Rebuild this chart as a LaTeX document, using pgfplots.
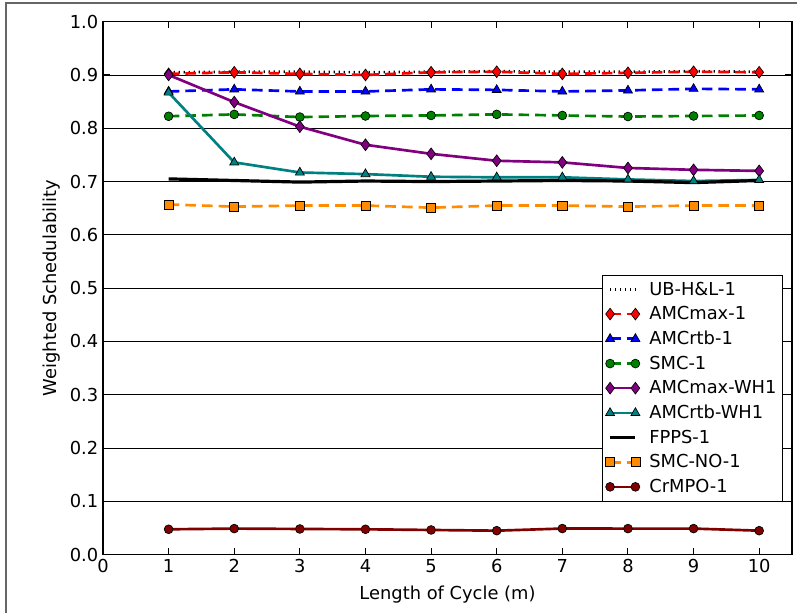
\documentclass[border=0pt]{standalone}
\usepackage{fontspec}
\setmainfont{DejaVu Sans}
\usepackage{pgfplots}
\pgfplotsset{compat=1.18}

\definecolor{cred}{RGB}{255,0,0}
\definecolor{cblue}{RGB}{0,0,255}
\definecolor{cgreen}{RGB}{0,128,0}
\definecolor{cpurple}{RGB}{128,0,128}
\definecolor{cteal}{RGB}{0,128,128}
\definecolor{corange}{RGB}{255,140,0}
\definecolor{cmaroon}{RGB}{128,0,0}

\pgfplotstableread{
m   ub     amcmax  amcrtb  smc    amcmaxwh amcrtbwh fpps   smcno  crmpo
1   0.905  0.902   0.869   0.8225 0.900    0.867    0.705  0.657  0.0476
2   0.906  0.905   0.873   0.826  0.849    0.736    0.702  0.653  0.0489
3   0.906  0.902   0.869   0.821  0.803    0.717    0.699  0.655  0.0482
4   0.905  0.900   0.869   0.823  0.769    0.714    0.701  0.655  0.0476
5   0.906  0.905   0.873   0.824  0.752    0.709    0.700  0.651  0.0463
6   0.907  0.906   0.872   0.826  0.739    0.708    0.701  0.655  0.0450
7   0.906  0.902   0.869   0.824  0.736    0.708    0.702  0.655  0.0490
8   0.906  0.904   0.871   0.822  0.7255   0.704    0.701  0.653  0.0489
9   0.907  0.906   0.874   0.823  0.722    0.701    0.698  0.655  0.0489
10  0.906  0.905   0.873   0.824  0.720    0.703    0.702  0.655  0.0450
}\data

\begin{document}
\begin{tikzpicture}
\useasboundingbox (-77.25pt,-43.7pt) rectangle (520.5pt,416pt);
\draw[black!60, line width=1.3pt] (-72.75pt,-43.7pt) -- (-72.75pt,413.5pt) -- (520.5pt,413.5pt);
\begin{axis}[
    at={(0pt,0pt)}, anchor=south west,
    scale only axis,
    width=516.75pt, height=399.75pt,
    xmin=0, xmax=10.5,
    ymin=0, ymax=1,
    xtick={0,1,2,3,4,5,6,7,8,9,10},
    ytick={0,0.1,0.2,0.3,0.4,0.5,0.6,0.7,0.8,0.9,1.0},
    yticklabel style={/pgf/number format/.cd, fixed, fixed zerofill, precision=1},
    /pgf/number format/assume math mode=true,
    tick label style={font=\fontsize{13.4}{16}\selectfont},
    label style={font=\fontsize{13.4}{16}\selectfont},
    xlabel={Length of Cycle (m)},
    ylabel={Weighted Schedulability},
    xlabel style={at={(axis description cs:0.5,-0.0756)}, anchor=center},
    ylabel style={at={(axis description cs:-0.074,0.5)}, anchor=center},
    tick align=inside,
    major tick length=5pt,
    tick style={black, line width=0.8pt},
    axis line style={line width=1pt},
    ymajorgrids,
    grid style={black, line width=0.6pt},
    legend cell align=left,
    legend style={at={(axis description cs:0.987,0.0994)}, anchor=south east,
        font=\fontsize{13.4}{16}\selectfont, draw=black, line width=0.8pt,
        fill=white, row sep=3.0pt, inner xsep=2.5pt, inner ysep=3pt,
        /tikz/every odd column/.append style={column sep=5pt}},
    legend image code/.code={\draw[#1] plot coordinates {(0pt,0pt) (19pt,0pt)};},
    every axis plot/.append style={line width=2pt},
]
\addplot[black, dash pattern=on 1pt off 2.75pt] table[x=m, y=ub] {\data};
\addlegendentry{UB-H\&L-1}
\addplot[cred, dash pattern=on 8pt off 4.5pt, mark=diamond*, mark size=4.4pt,
    mark options={solid, draw=black, fill=cred, line width=0.5pt}] table[x=m, y=amcmax] {\data};
\addlegendentry{AMCmax-1}
\addplot[cblue, dash pattern=on 8pt off 4.5pt, mark=triangle*, mark size=3.9pt,
    mark options={solid, draw=black, fill=cblue, line width=0.5pt}] table[x=m, y=amcrtb] {\data};
\addlegendentry{AMCrtb-1}
\addplot[cgreen, dash pattern=on 8pt off 4.5pt, mark=*, mark size=3.3pt,
    mark options={solid, draw=black, fill=cgreen, line width=0.5pt}] table[x=m, y=smc] {\data};
\addlegendentry{SMC-1}
\addplot[cpurple, mark=diamond*, mark size=4.4pt,
    mark options={solid, draw=black, fill=cpurple, line width=0.5pt}] table[x=m, y=amcmaxwh] {\data};
\addlegendentry{AMCmax-WH1}
\addplot[cteal, mark=triangle*, mark size=3.9pt,
    mark options={solid, draw=black, fill=cteal, line width=0.5pt}] table[x=m, y=amcrtbwh] {\data};
\addlegendentry{AMCrtb-WH1}
\addplot[black, line width=2.4pt] table[x=m, y=fpps] {\data};
\addlegendentry{FPPS-1}
\addplot[corange, dash pattern=on 8pt off 4.5pt, mark=square*, mark size=3.4pt,
    mark options={solid, draw=black, fill=corange, line width=0.5pt}] table[x=m, y=smcno] {\data};
\addlegendentry{SMC-NO-1}
\addplot[cmaroon, mark=*, mark size=3.3pt,
    mark options={solid, draw=black, fill=cmaroon, line width=0.5pt}] table[x=m, y=crmpo] {\data};
\addlegendentry{CrMPO-1}
\end{axis}
\end{tikzpicture}
\end{document}
